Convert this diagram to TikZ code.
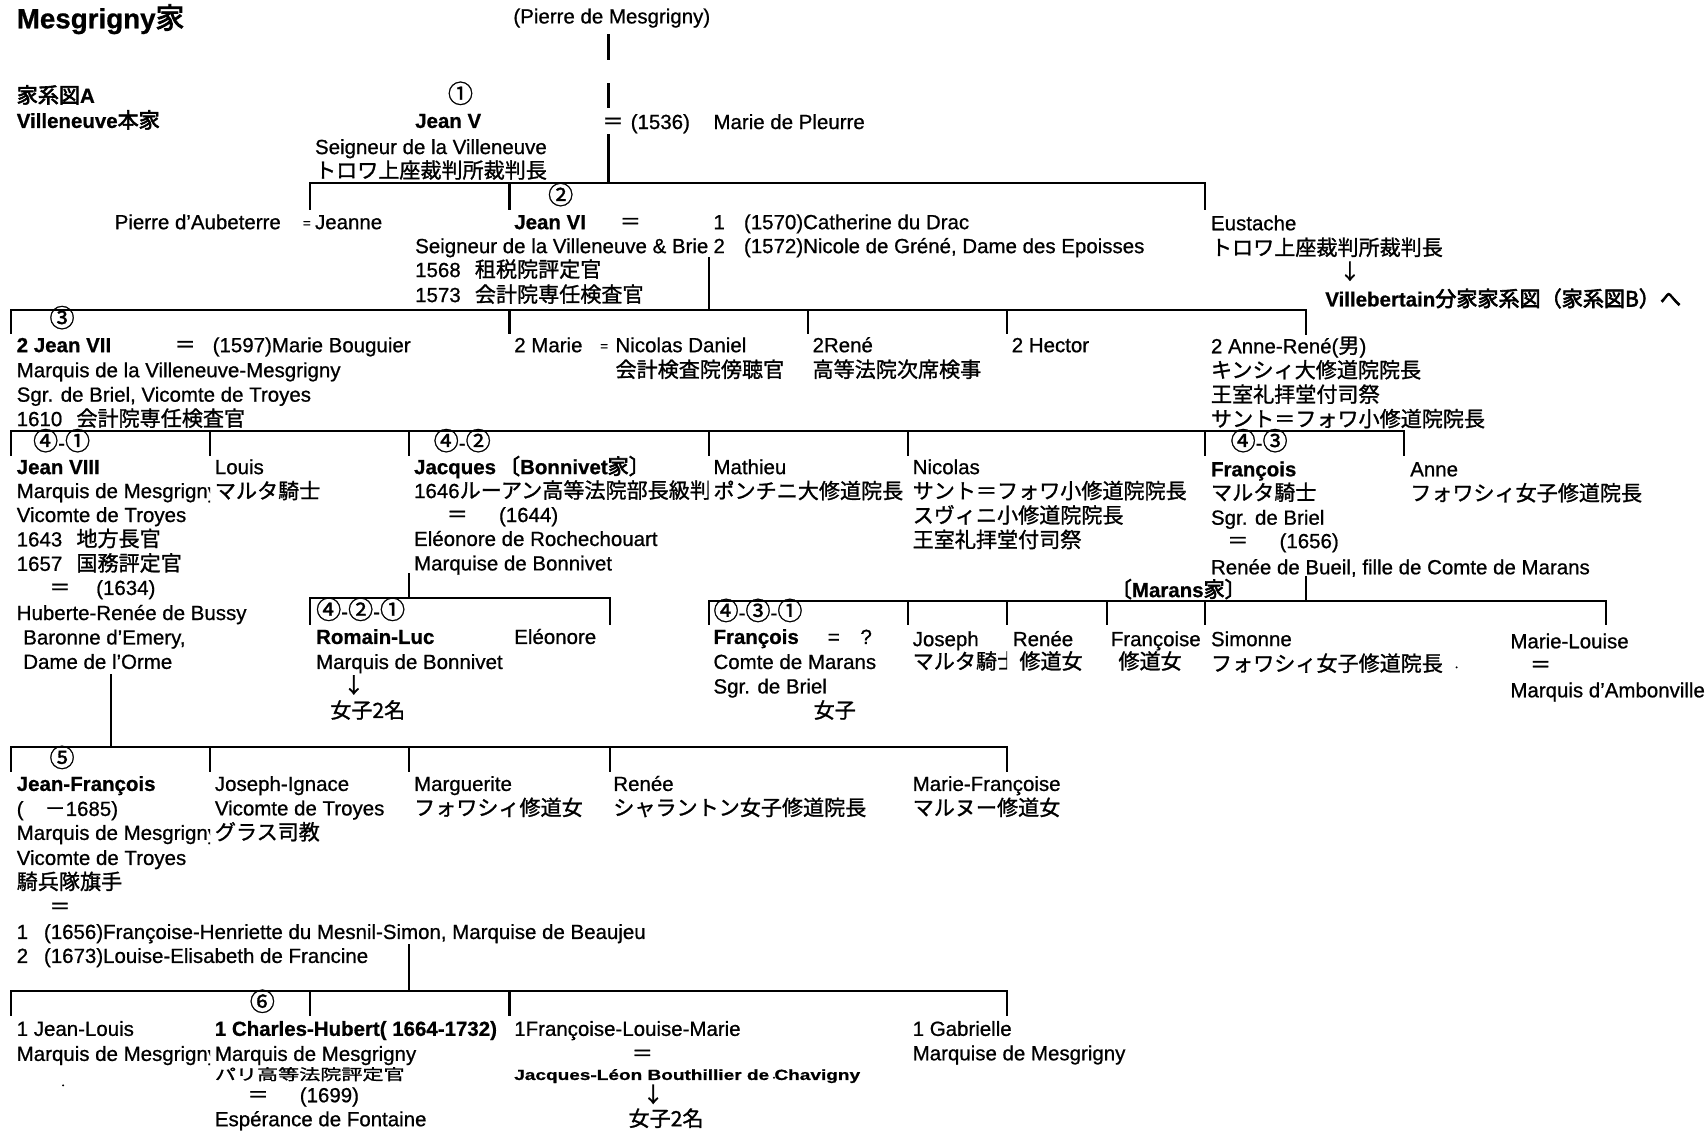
\documentclass[tikz,border=0pt]{standalone}
\usepackage{fontspec}
\usepackage{graphicx}
\setmainfont{Liberation Sans}[FakeBold=0.8]
\newfontfamily\cjk{Noto Sans CJK JP}[Scale=1.03,FakeBold=1.2,BoldFont={Noto Sans CJK JP},BoldFeatures={FakeBold=3}]
\newcommand\J[1]{{\cjk #1}}
\newcommand\C[1]{{\cjk\fontsize{11.2}{11.2}\selectfont #1}}
\tikzset{
  tx/.style={anchor=base west,inner sep=0pt,font=\fontsize{9.4}{11.25}\selectfont},
  bx/.style={anchor=base west,inner sep=0pt,font=\fontsize{9.4}{11.25}\selectfont\bfseries},
  cn/.style={anchor=base,inner sep=0pt,font=\fontsize{9.4}{11.25}\selectfont},
  sm/.style={anchor=base west,inner sep=0pt,font=\fontsize{6}{7}\selectfont},
  ln/.style={line width=1pt,line cap=rect},
}
\newcommand\TX[4]{\node[tx] (#1) at (#2,#3+6.5) {#4};}
\newcommand\BX[4]{\node[bx] (#1) at (#2,#3+6.5) {#4};}
\newcommand\CN[4]{\node[cn] (#1) at (#2,#3+6.5) {\C{#4}};}
\newcommand\AR[3]{\node[cn] (#1) at (#2,#3+6.5) {\J{↓}};}
\newcommand\COL[4]{\foreach \t [count=\i] in {#4} {\node[tx] (#1-\i) at (#2,{#3+6.5+22.45*(\i-1)}) {\t};}}
\newcommand\CLIP[5]{\begin{scope}\clip (#2-3,#3-16) rectangle (#4,#3+16);\node[tx] (#1) at (#2,#3+6.5) {#5};\end{scope}}
\begin{document}
\begin{tikzpicture}[x=0.5pt,y=-0.5pt]
\useasboundingbox (0,0) rectangle (1568,1041);
% ---------- header ----------
\node[anchor=base west,inner sep=0pt,font=\fontsize{12.75}{14}\selectfont\bfseries] (title) at (15,26) {Mesgrigny\J{家}};
\node[cn] (root) at (562,21.5) {(Pierre de Mesgrigny)};
\BX{hA}{15}{88}{\J{家系図}A}
\BX{hB}{15}{111}{Villeneuve\J{本家}}
% ---------- generation 1 ----------
\CN{c1}{423}{88}{①}
\BX{jv}{381}{111}{Jean V}
\TX{jv2}{289}{135}{Seigneur de la Villeneuve}
\TX{jv3}{289}{157}{\J{トロワ上座裁判所裁判長}}
\TX{eq1}{553}{112}{\J{＝}}
\TX{m1}{579}{112}{(1536)}
\TX{m2}{655}{112}{Marie de Pleurre}
% ---------- generation 2 ----------
\CN{c2}{515}{181}{②}
\TX{pa}{105}{204}{Pierre d'Aubeterre}
\node[sm] (eqs1) at (278,209) {=};
\TX{jn}{289}{204}{Jeanne}
\BX{j6}{472}{204}{Jean VI}
\TX{eq2}{569}{204}{\J{＝}}
\TX{w1a}{655}{204}{1}
\TX{w1}{683}{204}{(1570)Catherine du Drac}
\CLIP{j6b}{381}{226}{652}{Seigneur de la Villeneuve \& Brie}
\TX{w2a}{655}{226}{2}
\TX{w2}{683}{226}{(1572)Nicole de Gréné, Dame des Epoisses}
\TX{j6c}{381}{248}{1568\hspace{6.5pt}\J{租税院評定官}}
\TX{j6d}{381}{271}{1573\hspace{6.5pt}\J{会計院専任検査官}}
\TX{eu}{1112}{205}{Eustache}
\TX{eu2}{1112}{228}{\J{トロワ上座裁判所裁判長}}
\AR{ar1}{1240}{250}
\BX{vb}{1217}{275}{Villebertain\J{分家家系図（家系図B）へ}}
% ---------- generation 3 ----------
\CN{c3}{57}{294}{③}
\BX{j7}{15}{317}{2 Jean VII}
\TX{eq3}{160}{317}{\J{＝}}
\TX{mb}{195}{317}{(1597)Marie Bouguier}
\COL{j7x}{15}{340}{Marquis de la Villeneuve-Mesgrigny, {Sgr. de Briel, Vicomte de Troyes}, 1610\hspace{6.5pt}\J{会計院専任検査官}}
\TX{mr}{472}{317}{2 Marie}
\node[sm] (eqs2) at (551,322) {=};
\TX{nd}{565}{317}{Nicolas Daniel}
\TX{nd2}{565}{340}{\J{会計検査院傍聴官}}
\TX{rn}{746}{317}{2René}
\TX{rn2}{746}{340}{\J{高等法院次席検事}}
\TX{hc}{929}{317}{2 Hector}
\COL{ar}{1112}{318}{2 Anne-René(\J{男}), \J{キンシィ大修道院院長}, \J{王室礼拝堂付司祭}, \J{サント＝フォワ小修道院院長}}
% ---------- generation 4 ----------
\TX{c41}{30}{407}{\C{④}-\C{①}}
\TX{c42}{398}{407}{\C{④}-\C{②}}
\TX{c43}{1130}{407}{\C{④}-\C{③}}
\BX{j8}{15}{429}{Jean VIII}
\CLIP{j8b}{15}{451}{193}{Marquis de Mesgrigny}
\COL{j8x}{15}{473}{Vicomte de Troyes, 1643\hspace{6.5pt}\J{地方長官}, 1657\hspace{6.5pt}\J{国務評定官}}
\TX{eq4}{45}{540}{\J{＝}}
\TX{d4}{88}{540}{(1634)}
\COL{hb}{15}{563}{Huberte-Renée de Bussy, {\hspace{3pt}Baronne d'Emery,}, \hspace{3pt}Dame de l'Orme}
\COL{lo}{197}{429}{Louis, \J{マルタ騎士}}
\BX{jq}{380}{429}{Jacques}
\BX{jqb}{458}{429}{\J{〔}Bonnivet\J{家〕}}
\CLIP{jq2}{380}{451}{651}{1646\J{ルーアン高等法院部長級判事}}
\TX{eq5}{410}{473}{\J{＝}}
\TX{d5}{458}{473}{(1644)}
\COL{jq3}{380}{495}{Eléonore de Rochechouart, Marquise de Bonnivet}
\COL{mt}{655}{429}{Mathieu, \J{ポンチニ大修道院長}}
\COL{nc}{838}{429}{Nicolas, \J{サント＝フォワ小修道院院長}, \J{スヴィニ小修道院院長}, \J{王室礼拝堂付司祭}}
\BX{fr}{1112}{431}{François}
\COL{frx}{1112}{453}{\J{マルタ騎士}, Sgr. de Briel}
\TX{eq6}{1127}{497}{\J{＝}}
\TX{d6}{1175}{497}{(1656)}
\TX{rb}{1112}{521}{Renée de Bueil, fille de Comte de Marans}
\COL{an}{1295}{431}{Anne, \J{フォワシィ女子修道院長}}
\BX{mar}{1020}{542}{\J{〔}Marans\J{家〕}}
% ---------- Bonnivet / Marans branches ----------
\TX{c421}{290}{562}{\C{④}-\C{②}-\C{①}}
\BX{rl}{290}{585}{Romain-Luc}
\TX{rl2}{290}{608}{Marquis de Bonnivet}
\AR{ar2}{325}{630}
\TX{rl3}{303}{653}{\J{女子2名}}
\TX{el}{472}{585}{Eléonore}
\TX{c431}{655}{563}{\C{④}-\C{③}-\C{①}}
\BX{f2}{655}{585}{François}
\TX{eq7}{760}{585}{=}
\TX{q7}{790}{585}{?}
\COL{f2x}{655}{608}{Comte de Marans, Sgr. de Briel}
\TX{f2d}{747}{653}{\J{女子}}
\TX{jo}{838}{587}{Joseph}
\CLIP{jo2}{838}{608}{925}{\J{マルタ騎士}}
\TX{re}{930}{587}{Renée}
\TX{re2}{936}{608}{\J{修道女}}
\TX{fs}{1020}{587}{Françoise}
\TX{fs2}{1027}{608}{\J{修道女}}
\TX{si}{1112}{587}{Simonne}
\TX{si2}{1112}{610}{\J{フォワシィ女子修道院長}}
\TX{ml}{1387}{589}{Marie-Louise}
\TX{eq8}{1405}{611}{\J{＝}}
\TX{ml2}{1387}{634}{Marquis d'Ambonville}
% ---------- generation 5 ----------
\CN{c5}{57}{698}{⑤}
\BX{jf}{15}{720}{Jean-François}
\TX{jf2}{15}{743}{(\J{　－}1685)}
\CLIP{jf3}{15}{765}{193}{Marquis de Mesgrigny}
\COL{jf4}{15}{788}{Vicomte de Troyes, \J{騎兵隊旗手}}
\TX{eq9}{45}{833}{\J{＝}}
\TX{w3a}{15}{856}{1}
\TX{w3}{40}{856}{(1656)Françoise-Henriette du Mesnil-Simon, Marquise de Beaujeu}
\TX{w4a}{15}{878}{2}
\TX{w4}{40}{878}{(1673)Louise-Elisabeth de Francine}
\COL{ji}{197}{720}{Joseph-Ignace, Vicomte de Troyes, \J{グラス司教}}
\COL{mg}{380}{720}{Marguerite, \J{フォワシィ修道女}}
\COL{rn3}{563}{720}{Renée, \J{シャラントン女子修道院長}}
\COL{mf}{838}{720}{Marie-Françoise, \J{マルヌー修道女}}
% ---------- generation 6 ----------
\CN{c6}{241}{922}{⑥}
\TX{jl}{15}{945}{1 Jean-Louis}
\CLIP{jl2}{15}{968}{193}{Marquis de Mesgrigny}
\BX{ch}{197}{945}{1 Charles-Hubert( 1664-1732)}
\TX{ch2}{197}{968}{Marquis de Mesgrigny}
\node[tx] (ch3) at (197,992) {\scalebox{1}[0.72]{\J{パリ高等法院評定官}}};
\TX{eq10}{227}{1006}{\J{＝}}
\TX{d10}{275}{1006}{(1699)}
\TX{ch4}{197}{1028}{Espérance de Fontaine}
\TX{fl}{472}{945}{1Françoise-Louise-Marie}
\TX{eq11}{580}{968}{\J{＝}}
\node[tx] (jl3) at (472,992) {\scalebox{0.93}[0.72]{\bfseries Jacques-Léon Bouthillier de Chavigny}};
\AR{ar3}{600}{1006}
\TX{fl2}{577}{1028}{\J{女子2名}}
\COL{gb}{838}{945}{1 Gabrielle, Marquise de Mesgrigny}
% stray dots
\fill (58,997) circle (1);
\fill (711,990) circle (1);
\fill (1338,613) circle (1);
% ---------- lines ----------
\draw[ln] (559,32)--(559,54) (559,77)--(559,98) (559,124)--(559,168);
\draw[ln] (285,192)--(285,168)--(1107,168)--(1107,192) (468,168)--(468,192);
\draw[ln] (651,237)--(651,284.5);
\draw[ln] (10,306)--(10,284.5)--(1200,284.5)--(1200,307) (468,284.5)--(468,306) (742,284.5)--(742,306) (925,284.5)--(925,306);
\draw[ln] (10,418)--(10,396)--(1290,396)--(1290,418) (193,396)--(193,418) (376,396)--(376,418) (651,396)--(651,418) (834,396)--(834,418) (1107,396)--(1107,418);
\draw[ln] (376,527)--(376,549) (285,573)--(285,549)--(560,549)--(560,573);
\draw[ln] (1200,530)--(1200,552) (651,573)--(651,552)--(1475,552)--(1475,573) (834,552)--(834,573) (925,552)--(925,573) (1017,552)--(1017,573) (1107,552)--(1107,573);
\draw[ln] (102,620)--(102,686) (10,708)--(10,686)--(925,686)--(925,708) (193,686)--(193,708) (376,686)--(376,708) (560,686)--(560,708);
\draw[ln] (376,868)--(376,910) (10,932)--(10,910)--(925,910)--(925,932) (285,910)--(285,932) (468,910)--(468,932);
\end{tikzpicture}
\end{document}
